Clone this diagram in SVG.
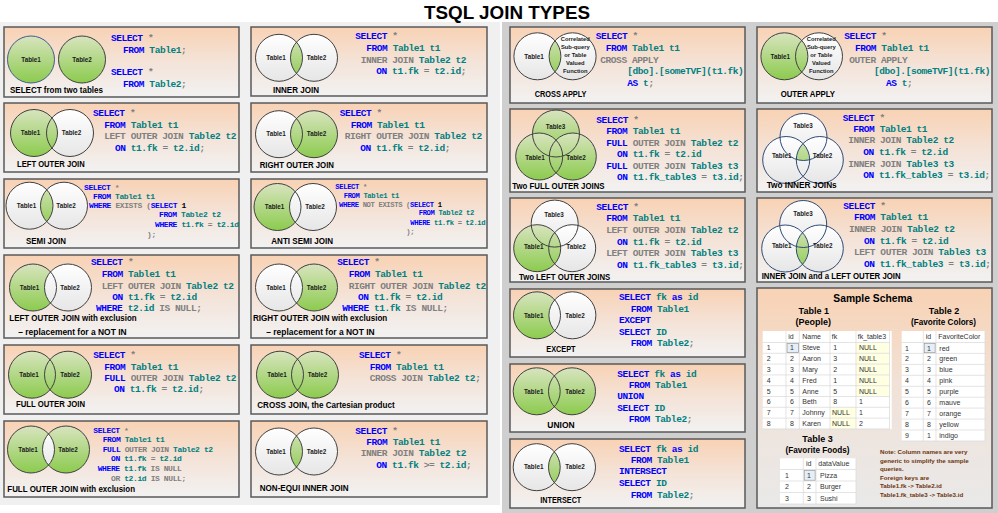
<svg xmlns="http://www.w3.org/2000/svg" width="998" height="513" viewBox="0 0 998 513">
<defs>
<linearGradient id="pg" x1="0" y1="0" x2="0" y2="1"><stop offset="0" stop-color="#f8d2b4"/><stop offset="0.5" stop-color="#f4e3d8"/><stop offset="1" stop-color="#f2f2f2"/></linearGradient>
<linearGradient id="sg" x1="0" y1="0" x2="0" y2="1"><stop offset="0" stop-color="#f8d2b4"/><stop offset="0.45" stop-color="#f1e2d8"/><stop offset="1" stop-color="#e9e9e9"/></linearGradient>
<linearGradient id="gg" x1="0" y1="0" x2="0" y2="1"><stop offset="0" stop-color="#d8e4bf"/><stop offset="1" stop-color="#8ccb4e"/></linearGradient>
<linearGradient id="wg" x1="0" y1="0" x2="0" y2="1"><stop offset="0" stop-color="#ffffff"/><stop offset="1" stop-color="#e6e6e6"/></linearGradient>
<clipPath id="kA3"><circle cx="64" cy="205.7" r="23.5"/></clipPath>
<clipPath id="kA6"><circle cx="66" cy="449.5" r="23.5"/></clipPath>
<clipPath id="kB1"><circle cx="314" cy="57.8" r="23.5"/></clipPath>
<clipPath id="kB6"><circle cx="314" cy="451.5" r="23.5"/></clipPath>
<clipPath id="kC1"><circle cx="572.6" cy="56.3" r="23.5"/></clipPath>
<clipPath id="kC6"><circle cx="572" cy="467.2" r="23.5"/></clipPath>
<clipPath id="kD2a"><circle cx="819.8" cy="160" r="23.5"/></clipPath>
<clipPath id="kD2b"><circle cx="803.5" cy="137" r="23.5"/></clipPath>
<clipPath id="kD3"><circle cx="819.8" cy="248.5" r="23.5"/></clipPath>
<style>
.p{fill:url(#pg);stroke:#595959;stroke-width:1.5}
.g{fill:url(#gg)}
.w{fill:url(#wg)}
.o{fill:none;stroke:#404040;stroke-width:1}
.tl{font-family:"Liberation Sans",Arial,sans-serif;font-weight:bold;font-size:6.3px;fill:#1a1a1a;text-anchor:middle}
.cap{font-family:"Liberation Sans",Arial,sans-serif;font-weight:bold;font-size:9px;fill:#000}
.c{font-family:"Liberation Mono","Courier New",monospace;font-weight:bold;font-size:9.5px;letter-spacing:-0.43px;fill:#008080}
.cs{font-size:8px;letter-spacing:-0.4px}
.cx{font-size:7.2px;letter-spacing:-0.37px}
.k{fill:#0000ff}
.y{fill:#808080}
.b{fill:#000}
.fn{font-family:"Liberation Sans",Arial,sans-serif;font-weight:bold;font-size:5.8px;fill:#1a1a1a;text-anchor:middle}
.sh{font-family:"Liberation Sans",Arial,sans-serif;font-weight:bold;fill:#000;text-anchor:middle}
.td{font-family:"Liberation Sans",Arial,sans-serif;font-size:7px;fill:#333}
.gl{stroke:#d8d8d8;stroke-width:0.7;fill:none}
.yc{fill:#ffffe1}
.sel{fill:#e6eef7;stroke:#9a9a9a;stroke-width:0.8}
.nt{font-family:"Liberation Sans",Arial,sans-serif;font-weight:bold;font-size:6.2px;fill:#6b3310}
</style>
</defs>
<rect x="0" y="0" width="998" height="513" fill="#ffffff"/>
<rect x="0" y="22" width="500" height="483" fill="#f0f0f0"/>
<rect x="502" y="22" width="496" height="491" fill="#cfcfcf"/>
<text x="507" y="19" text-anchor="middle" font-family="Liberation Sans, Arial, sans-serif" font-weight="bold" font-size="19" textLength="166" lengthAdjust="spacingAndGlyphs">TSQL JOIN TYPES</text>

<g id="n-select-two">
<rect class="p" x="4" y="27" width="235" height="70"/>
<circle class="g" cx="31" cy="59.5" r="23.5"/><circle class="g" cx="82" cy="59.5" r="23.5"/>
<circle class="o" cx="31" cy="59.5" r="23.5" style="stroke:#3d5e8c"/><circle class="o" cx="82" cy="59.5" r="23.5"/>
<text class="tl" x="31" y="61.7">Table1</text><text class="tl" x="82" y="61.7">Table2</text>
<text class="cap" x="10" y="93" textLength="93" lengthAdjust="spacingAndGlyphs">SELECT from two tables</text>
<text class="c" x="111" y="41"><tspan class="k">SELECT</tspan> <tspan class="y">*</tspan></text>
<text class="c" x="123" y="52.7"><tspan class="k">FROM</tspan> Table1<tspan class="y">;</tspan></text>
<text class="c" x="111" y="75"><tspan class="k">SELECT</tspan> <tspan class="y">*</tspan></text>
<text class="c" x="123" y="87"><tspan class="k">FROM</tspan> Table2<tspan class="y">;</tspan></text>
</g>

<g id="n-left-outer">
<rect class="p" x="4" y="103" width="235" height="69"/>
<circle class="w" cx="70" cy="133" r="23.5"/><circle class="g" cx="34" cy="133" r="23.5"/>
<circle class="o" cx="34" cy="133" r="23.5"/><circle class="o" cx="70" cy="133" r="23.5"/>
<text class="tl" x="30.5" y="135.2">Table1</text><text class="tl" x="71.5" y="135.2">Table2</text>
<text class="cap" x="17" y="167" textLength="67.7" lengthAdjust="spacingAndGlyphs">LEFT OUTER JOIN</text>
<text class="c" x="93" y="116"><tspan class="k">SELECT</tspan> <tspan class="y">*</tspan></text>
<text class="c" x="104.3" y="128"><tspan class="k">FROM</tspan> Table1 t1</text>
<text class="c" x="104.3" y="139"><tspan class="y">LEFT OUTER JOIN</tspan> Table2 t2</text>
<text class="c" x="115" y="150.7"><tspan class="k">ON</tspan> t1.fk <tspan class="y">=</tspan> t2.id<tspan class="y">;</tspan></text>
</g>

<g id="n-semi">
<rect class="p" x="4" y="179" width="235" height="69"/>
<circle class="w" cx="29.5" cy="205.7" r="23.5"/><circle class="w" cx="64" cy="205.7" r="23.5"/>
<circle class="g" cx="29.5" cy="205.7" r="23.5" clip-path="url(#kA3)"/>
<circle class="o" cx="29.5" cy="205.7" r="23.5"/><circle class="o" cx="64" cy="205.7" r="23.5"/>
<text class="tl" x="26.5" y="207.9">Table1</text><text class="tl" x="66" y="207.9">Table2</text>
<text class="cap" x="26" y="243.7" textLength="40" lengthAdjust="spacingAndGlyphs">SEMI JOIN</text>
<text class="c cs" x="84" y="189.7"><tspan class="k">SELECT</tspan> <tspan class="y">*</tspan></text>
<text class="c cs" x="93" y="198.7"><tspan class="k">FROM</tspan> Table1 t1</text>
<text class="c cs" x="89" y="208"><tspan class="k">WHERE</tspan> <tspan class="y">EXISTS (</tspan><tspan class="k">SELECT</tspan> <tspan class="b">1</tspan></text>
<text class="c cs" x="159" y="217.3"><tspan class="k">FROM</tspan> Table2 t2</text>
<text class="c cs" x="155" y="227"><tspan class="k">WHERE</tspan> t1.fk <tspan class="y">=</tspan> t2.id</text>
<text class="c cs" x="147" y="237"><tspan class="y">);</tspan></text>
</g>

<g id="n-left-excl">
<rect class="p" x="4" y="255" width="235" height="83"/>
<circle class="g" cx="33" cy="287.5" r="23.5"/><circle class="w" cx="68" cy="287.5" r="23.5"/>
<circle class="o" cx="33" cy="287.5" r="23.5"/><circle class="o" cx="68" cy="287.5" r="23.5"/>
<text class="tl" x="29.5" y="289.7">Table1</text><text class="tl" x="70" y="289.7">Table2</text>
<text class="cap" x="9.3" y="321.3" textLength="127.3" lengthAdjust="spacingAndGlyphs">LEFT OUTER JOIN with exclusion</text>
<text class="cap" x="18.3" y="334.7" textLength="108.3" lengthAdjust="spacingAndGlyphs">– replacement for a NOT IN</text>
<text class="c" x="91" y="265.3"><tspan class="k">SELECT</tspan> <tspan class="y">*</tspan></text>
<text class="c" x="101.7" y="277.3"><tspan class="k">FROM</tspan> Table1 t1</text>
<text class="c" x="101.7" y="288.7"><tspan class="y">LEFT OUTER JOIN</tspan> Table2 t2</text>
<text class="c" x="112.3" y="300.3"><tspan class="k">ON</tspan> t1.fk <tspan class="y">=</tspan> t2.id</text>
<text class="c" x="96" y="311.3"><tspan class="k">WHERE</tspan> t2.id <tspan class="y">IS NULL;</tspan></text>
</g>

<g id="n-full-outer">
<rect class="p" x="4" y="345" width="235" height="69"/>
<circle class="g" cx="32" cy="374.7" r="23.5"/><circle class="g" cx="68" cy="374.7" r="23.5"/>
<circle class="o" cx="32" cy="374.7" r="23.5"/><circle class="o" cx="68" cy="374.7" r="23.5"/>
<text class="tl" x="29" y="376.9">Table1</text><text class="tl" x="70" y="376.9">Table2</text>
<text class="cap" x="16" y="406.7" textLength="69" lengthAdjust="spacingAndGlyphs">FULL OUTER JOIN</text>
<text class="c" x="93.3" y="357.7"><tspan class="k">SELECT</tspan> <tspan class="y">*</tspan></text>
<text class="c" x="104.3" y="369.7"><tspan class="k">FROM</tspan> Table1 t1</text>
<text class="c" x="104.3" y="380.7"><tspan class="k">FULL</tspan> <tspan class="y">OUTER JOIN</tspan> Table2 t2</text>
<text class="c" x="114" y="392.3"><tspan class="k">ON</tspan> t1.fk <tspan class="y">=</tspan> t2.id<tspan class="y">;</tspan></text>
</g>

<g id="n-full-excl">
<rect class="p" x="4" y="421" width="235" height="76"/>
<circle class="g" cx="31" cy="449.5" r="23.5"/><circle class="g" cx="66" cy="449.5" r="23.5"/>
<circle class="w" cx="31" cy="449.5" r="23.5" clip-path="url(#kA6)"/>
<circle class="o" cx="31" cy="449.5" r="23.5"/><circle class="o" cx="66" cy="449.5" r="23.5"/>
<text class="tl" x="28" y="451.7">Table1</text><text class="tl" x="68" y="451.7">Table2</text>
<text class="cap" x="7.3" y="491.7" textLength="127.7" lengthAdjust="spacingAndGlyphs">FULL OUTER JOIN with exclusion</text>
<text class="c cs" x="93.3" y="432.7"><tspan class="k">SELECT</tspan> <tspan class="y">*</tspan></text>
<text class="c cs" x="102.7" y="441.7"><tspan class="k">FROM</tspan> Table1 t1</text>
<text class="c cs" x="102.7" y="451.7"><tspan class="k">FULL</tspan> <tspan class="y">OUTER JOIN</tspan> Table2 t2</text>
<text class="c cs" x="111" y="461"><tspan class="k">ON</tspan> t1.fk <tspan class="y">=</tspan> t2.id</text>
<text class="c cs" x="97.7" y="471"><tspan class="k">WHERE</tspan> t1.fk <tspan class="y">IS NULL</tspan></text>
<text class="c cs" x="111" y="481"><tspan class="y">OR</tspan> t2.id <tspan class="y">IS NULL;</tspan></text>
</g>

<g id="n-inner">
<rect class="p" x="251" y="27" width="236" height="69"/>
<circle class="w" cx="279" cy="57.8" r="23.5"/><circle class="w" cx="314" cy="57.8" r="23.5"/>
<circle class="g" cx="279" cy="57.8" r="23.5" clip-path="url(#kB1)"/>
<circle class="o" cx="279" cy="57.8" r="23.5"/><circle class="o" cx="314" cy="57.8" r="23.5"/>
<text class="tl" x="276" y="60">Table1</text><text class="tl" x="316.5" y="60">Table2</text>
<text class="cap" x="273" y="92.7" textLength="46" lengthAdjust="spacingAndGlyphs">INNER JOIN</text>
<text class="c" x="355.3" y="39.3"><tspan class="k">SELECT</tspan> <tspan class="y">*</tspan></text>
<text class="c" x="366.3" y="51"><tspan class="k">FROM</tspan> Table1 t1</text>
<text class="c" x="360.7" y="62.7"><tspan class="y">INNER JOIN</tspan> Table2 t2</text>
<text class="c" x="376.3" y="74.3"><tspan class="k">ON</tspan> t1.fk <tspan class="y">=</tspan> t2.id<tspan class="y">;</tspan></text>
</g>

<g id="n-right-outer">
<rect class="p" x="251" y="103" width="236" height="69"/>
<circle class="w" cx="279" cy="134.2" r="23.5"/><circle class="g" cx="314" cy="134.2" r="23.5"/>
<circle class="o" cx="279" cy="134.2" r="23.5"/><circle class="o" cx="314" cy="134.2" r="23.5"/>
<text class="tl" x="276" y="136.4">Table1</text><text class="tl" x="316.5" y="136.4">Table2</text>
<text class="cap" x="259.7" y="167.7" textLength="74.3" lengthAdjust="spacingAndGlyphs">RIGHT OUTER JOIN</text>
<text class="c" x="339.7" y="116"><tspan class="k">SELECT</tspan> <tspan class="y">*</tspan></text>
<text class="c" x="350.7" y="127.7"><tspan class="k">FROM</tspan> Table1 t1</text>
<text class="c" x="344.7" y="139.3"><tspan class="y">RIGHT OUTER JOIN</tspan> Table2 t2</text>
<text class="c" x="360.3" y="150.7"><tspan class="k">ON</tspan> t1.fk <tspan class="y">=</tspan> t2.id<tspan class="y">;</tspan></text>
</g>

<g id="n-anti-semi">
<rect class="p" x="251" y="179" width="236" height="69"/>
<circle class="g" cx="277.5" cy="207" r="23.5"/><circle class="w" cx="313" cy="207" r="23.5"/>
<circle class="o" cx="277.5" cy="207" r="23.5"/><circle class="o" cx="313" cy="207" r="23.5"/>
<text class="tl" x="274.5" y="209.2">Table1</text><text class="tl" x="315" y="209.2">Table2</text>
<text class="cap" x="271.3" y="243.7" textLength="61.7" lengthAdjust="spacingAndGlyphs">ANTI SEMI JOIN</text>
<text class="c cx" x="335.3" y="189.3"><tspan class="k">SELECT</tspan> <tspan class="y">*</tspan></text>
<text class="c cx" x="343.7" y="198.3"><tspan class="k">FROM</tspan> Table1 t1</text>
<text class="c cx" x="339" y="206.7"><tspan class="k">WHERE</tspan> <tspan class="y">NOT EXISTS (</tspan><tspan class="k">SELECT</tspan> <tspan class="b">1</tspan></text>
<text class="c cx" x="418.7" y="215.3"><tspan class="k">FROM</tspan> Table2 t2</text>
<text class="c cx" x="410.3" y="224.7"><tspan class="k">WHERE</tspan> t1.fk <tspan class="y">=</tspan> t2.id</text>
<text class="c cx" x="406.3" y="234.3"><tspan class="y">);</tspan></text>
</g>

<g id="n-right-excl">
<rect class="p" x="251" y="255" width="236" height="83"/>
<circle class="g" cx="314" cy="287.5" r="23.5"/><circle class="w" cx="279" cy="287.5" r="23.5"/>
<circle class="o" cx="279" cy="287.5" r="23.5"/><circle class="o" cx="314" cy="287.5" r="23.5"/>
<text class="tl" x="276" y="289.7">Table1</text><text class="tl" x="316.5" y="289.7">Table2</text>
<text class="cap" x="253" y="321.3" textLength="134.3" lengthAdjust="spacingAndGlyphs">RIGHT OUTER JOIN with exclusion</text>
<text class="cap" x="266.3" y="334.7" textLength="108.3" lengthAdjust="spacingAndGlyphs">– replacement for a NOT IN</text>
<text class="c" x="337.3" y="265.3"><tspan class="k">SELECT</tspan> <tspan class="y">*</tspan></text>
<text class="c" x="348.7" y="277.3"><tspan class="k">FROM</tspan> Table1 t1</text>
<text class="c" x="348.7" y="288.7"><tspan class="y">RIGHT OUTER JOIN</tspan> Table2 t2</text>
<text class="c" x="358" y="300.3"><tspan class="k">ON</tspan> t1.fk <tspan class="y">=</tspan> t2.id</text>
<text class="c" x="342.3" y="311.3"><tspan class="k">WHERE</tspan> t1.fk <tspan class="y">IS NULL;</tspan></text>
</g>

<g id="n-cross-join">
<rect class="p" x="251" y="345" width="236" height="69"/>
<circle class="g" cx="280" cy="374.7" r="23.5"/><circle class="g" cx="315" cy="374.7" r="23.5"/>
<circle class="o" cx="280" cy="374.7" r="23.5"/><circle class="o" cx="315" cy="374.7" r="23.5"/>
<text class="tl" x="277" y="376.9">Table1</text><text class="tl" x="317.5" y="376.9">Table2</text>
<text class="cap" x="257.3" y="408.3" textLength="137.3" lengthAdjust="spacingAndGlyphs">CROSS JOIN, the Cartesian product</text>
<text class="c" x="359" y="357.7"><tspan class="k">SELECT</tspan> <tspan class="y">*</tspan></text>
<text class="c" x="369.7" y="369.7"><tspan class="k">FROM</tspan> Table1 t1</text>
<text class="c" x="369.7" y="380.7"><tspan class="y">CROSS JOIN</tspan> Table2 t2<tspan class="y">;</tspan></text>
</g>

<g id="n-non-equi">
<rect class="p" x="251" y="421" width="236" height="76"/>
<circle class="w" cx="279" cy="451.5" r="23.5"/><circle class="w" cx="314" cy="451.5" r="23.5"/>
<circle class="g" cx="279" cy="451.5" r="23.5" clip-path="url(#kB6)"/>
<circle class="o" cx="279" cy="451.5" r="23.5"/><circle class="o" cx="314" cy="451.5" r="23.5"/>
<text class="tl" x="276" y="453.7">Table1</text><text class="tl" x="316.5" y="453.7">Table2</text>
<text class="cap" x="259.7" y="491" textLength="89" lengthAdjust="spacingAndGlyphs">NON-EQUI INNER JOIN</text>
<text class="c" x="355.3" y="434"><tspan class="k">SELECT</tspan> <tspan class="y">*</tspan></text>
<text class="c" x="366.3" y="445"><tspan class="k">FROM</tspan> Table1 t1</text>
<text class="c" x="360.7" y="456.3"><tspan class="y">INNER JOIN</tspan> Table2 t2</text>
<text class="c" x="376.3" y="468.3"><tspan class="k">ON</tspan> t1.fk <tspan class="y">&gt;=</tspan> t2.id<tspan class="y">;</tspan></text>
</g>

<g id="n-cross-apply">
<rect class="p" x="510" y="27" width="235" height="76"/>
<circle class="w" cx="537.4" cy="56.3" r="23.5"/><circle class="w" cx="572.6" cy="56.3" r="23.5"/>
<circle class="g" cx="537.4" cy="56.3" r="23.5" clip-path="url(#kC1)"/>
<circle class="o" cx="537.4" cy="56.3" r="23.5"/><circle class="o" cx="572.6" cy="56.3" r="23.5"/>
<text class="tl" x="534" y="58.5">Table1</text>
<text class="fn" x="575.3" y="41">Correlated</text>
<text class="fn" x="575.3" y="49">Sub-query</text>
<text class="fn" x="575.3" y="57">or Table</text>
<text class="fn" x="575.3" y="65">Valued</text>
<text class="fn" x="575.3" y="73">Function</text>
<text class="cap" x="534.7" y="96.7" textLength="51.7" lengthAdjust="spacingAndGlyphs">CROSS APPLY</text>
<text class="c" x="595.7" y="39.3"><tspan class="k">SELECT</tspan> <tspan class="y">*</tspan></text>
<text class="c" x="605.7" y="51"><tspan class="k">FROM</tspan> Table1 t1</text>
<text class="c" x="600.3" y="62.7"><tspan class="y">CROSS APPLY</tspan></text>
<text class="c" x="627.3" y="74.3">[dbo].[someTVF](t1.fk)</text>
<text class="c" x="627.3" y="86"><tspan class="k">AS</tspan> t<tspan class="y">;</tspan></text>
</g>

<g id="n-two-full">
<rect class="p" x="510" y="109" width="235" height="83"/>
<circle class="g" cx="556" cy="133.5" r="23.5"/><circle class="g" cx="539.2" cy="156.5" r="23.5"/><circle class="g" cx="572.8" cy="156.5" r="23.5"/>
<circle class="o" cx="556" cy="133.5" r="23.5"/><circle class="o" cx="539.2" cy="156.5" r="23.5"/><circle class="o" cx="572.8" cy="156.5" r="23.5"/>
<text class="tl" x="555.5" y="129">Table3</text><text class="tl" x="535" y="160">Table1</text><text class="tl" x="576" y="160">Table2</text>
<text class="cap" x="512.3" y="189.3" textLength="92.3" lengthAdjust="spacingAndGlyphs">Two FULL OUTER JOINS</text>
<text class="c" x="596.3" y="122.7"><tspan class="k">SELECT</tspan> <tspan class="y">*</tspan></text>
<text class="c" x="606.3" y="134.3"><tspan class="k">FROM</tspan> Table1 t1</text>
<text class="c" x="606.3" y="145.7"><tspan class="k">FULL</tspan> <tspan class="y">OUTER JOIN</tspan> Table2 t2</text>
<text class="c" x="617" y="157.3"><tspan class="k">ON</tspan> t1.fk <tspan class="y">=</tspan> t2.id</text>
<text class="c" x="606.3" y="168.7"><tspan class="k">FULL</tspan> <tspan class="y">OUTER JOIN</tspan> Table3 t3</text>
<text class="c" x="617" y="180"><tspan class="k">ON</tspan> t1.fk_table3 <tspan class="y">=</tspan> t3.id<tspan class="y">;</tspan></text>
</g>

<g id="n-two-left">
<rect class="p" x="510" y="198" width="235" height="84"/>
<circle class="w" cx="554.7" cy="223.6" r="23.5"/><circle class="w" cx="572.2" cy="248.2" r="23.5"/><circle class="g" cx="537.2" cy="248.2" r="23.5"/>
<circle class="o" cx="554.7" cy="223.6" r="23.5"/><circle class="o" cx="537.2" cy="248.2" r="23.5"/><circle class="o" cx="572.2" cy="248.2" r="23.5"/>
<text class="tl" x="554" y="217">Table3</text><text class="tl" x="533.7" y="248.7">Table1</text><text class="tl" x="576" y="248.7">Table2</text>
<text class="cap" x="519" y="280.3" textLength="91.3" lengthAdjust="spacingAndGlyphs">Two LEFT OUTER JOINS</text>
<text class="c" x="596.3" y="209.7"><tspan class="k">SELECT</tspan> <tspan class="y">*</tspan></text>
<text class="c" x="606.3" y="221.3"><tspan class="k">FROM</tspan> Table1 t1</text>
<text class="c" x="606.3" y="232.7"><tspan class="y">LEFT OUTER JOIN</tspan> Table2 t2</text>
<text class="c" x="617" y="244.7"><tspan class="k">ON</tspan> t1.fk <tspan class="y">=</tspan> t2.id</text>
<text class="c" x="606.3" y="256"><tspan class="y">LEFT OUTER JOIN</tspan> Table3 t3</text>
<text class="c" x="617" y="267.7"><tspan class="k">ON</tspan> t1.fk_table3 <tspan class="y">=</tspan> t3.id<tspan class="y">;</tspan></text>
</g>

<g id="n-except">
<rect class="p" x="510" y="289" width="235" height="68"/>
<circle class="g" cx="537" cy="315.3" r="23.5"/><circle class="w" cx="572.4" cy="315.3" r="23.5"/>
<circle class="o" cx="537" cy="315.3" r="23.5"/><circle class="o" cx="572.4" cy="315.3" r="23.5"/>
<text class="tl" x="533.7" y="317.5">Table1</text><text class="tl" x="575" y="317.5">Table2</text>
<text class="cap" x="546.3" y="351.7" textLength="29.3" lengthAdjust="spacingAndGlyphs">EXCEPT</text>
<text class="c" x="619" y="300.3"><tspan class="k">SELECT</tspan> fk <tspan class="k">as</tspan> id</text>
<text class="c" x="630.7" y="312"><tspan class="k">FROM</tspan> Table1</text>
<text class="c" x="619" y="323"><tspan class="k">EXCEPT</tspan></text>
<text class="c" x="619" y="334.7"><tspan class="k">SELECT</tspan> ID</text>
<text class="c" x="630.7" y="346"><tspan class="k">FROM</tspan> Table2<tspan class="y">;</tspan></text>
</g>

<g id="n-union">
<rect class="p" x="510" y="364" width="235" height="68"/>
<circle class="g" cx="536.7" cy="391.3" r="23.5"/><circle class="g" cx="572" cy="391.3" r="23.5"/>
<circle class="o" cx="536.7" cy="391.3" r="23.5"/><circle class="o" cx="572" cy="391.3" r="23.5"/>
<text class="tl" x="533.7" y="393.5">Table1</text><text class="tl" x="575" y="393.5">Table2</text>
<text class="cap" x="547.3" y="428.3" textLength="27.3" lengthAdjust="spacingAndGlyphs">UNION</text>
<text class="c" x="617.3" y="376.7"><tspan class="k">SELECT</tspan> fk <tspan class="k">as</tspan> id</text>
<text class="c" x="628.7" y="387.7"><tspan class="k">FROM</tspan> Table1</text>
<text class="c" x="617.3" y="399.3"><tspan class="k">UNION</tspan></text>
<text class="c" x="617.3" y="410.7"><tspan class="k">SELECT</tspan> ID</text>
<text class="c" x="628.7" y="422.3"><tspan class="k">FROM</tspan> Table2<tspan class="y">;</tspan></text>
</g>

<g id="n-intersect">
<rect class="p" x="510" y="439" width="235" height="69"/>
<circle class="w" cx="536.7" cy="467.2" r="23.5"/><circle class="w" cx="572" cy="467.2" r="23.5"/>
<circle class="g" cx="536.7" cy="467.2" r="23.5" clip-path="url(#kC6)"/>
<circle class="o" cx="536.7" cy="467.2" r="23.5"/><circle class="o" cx="572" cy="467.2" r="23.5"/>
<text class="tl" x="533.7" y="469.4">Table1</text><text class="tl" x="575" y="469.4">Table2</text>
<text class="cap" x="540.3" y="503.3" textLength="41" lengthAdjust="spacingAndGlyphs">INTERSECT</text>
<text class="c" x="619" y="451.7"><tspan class="k">SELECT</tspan> fk <tspan class="k">as</tspan> id</text>
<text class="c" x="630.7" y="463.3"><tspan class="k">FROM</tspan> Table1</text>
<text class="c" x="619" y="474.3"><tspan class="k">INTERSECT</tspan></text>
<text class="c" x="619" y="486"><tspan class="k">SELECT</tspan> ID</text>
<text class="c" x="630.7" y="498.3"><tspan class="k">FROM</tspan> Table2<tspan class="y">;</tspan></text>
</g>

<g id="n-outer-apply">
<rect class="p" x="757" y="27" width="235" height="76"/>
<circle class="w" cx="819" cy="56.3" r="23.5"/><circle class="g" cx="784.4" cy="56.3" r="23.5"/>
<circle class="o" cx="784.4" cy="56.3" r="23.5"/><circle class="o" cx="819" cy="56.3" r="23.5"/>
<text class="tl" x="780.3" y="58.5">Table1</text>
<text class="fn" x="821.3" y="41">Correlated</text>
<text class="fn" x="821.3" y="49">Sub-query</text>
<text class="fn" x="821.3" y="57">or Table</text>
<text class="fn" x="821.3" y="65">Valued</text>
<text class="fn" x="821.3" y="73">Function</text>
<text class="cap" x="780.7" y="96.7" textLength="54.3" lengthAdjust="spacingAndGlyphs">OUTER APPLY</text>
<text class="c" x="844.3" y="39.3"><tspan class="k">SELECT</tspan> <tspan class="y">*</tspan></text>
<text class="c" x="855" y="51"><tspan class="k">FROM</tspan> Table1 t1</text>
<text class="c" x="849.3" y="62.7"><tspan class="y">OUTER APPLY</tspan></text>
<text class="c" x="874" y="74.3">[dbo].[someTVF](t1.fk)</text>
<text class="c" x="886" y="86"><tspan class="k">AS</tspan> t<tspan class="y">;</tspan></text>
</g>

<g id="n-two-inner">
<rect class="p" x="757" y="109" width="235" height="83"/>
<circle class="w" cx="803.5" cy="137" r="23.5"/><circle class="w" cx="786.2" cy="160" r="23.5"/><circle class="w" cx="819.8" cy="160" r="23.5"/>
<g clip-path="url(#kD2b)"><circle class="g" cx="786.2" cy="160" r="23.5" clip-path="url(#kD2a)"/></g>
<circle class="o" cx="803.5" cy="137" r="23.5" style="stroke:#2f4a75"/><circle class="o" cx="786.2" cy="160" r="23.5" style="stroke:#2f4a75"/><circle class="o" cx="819.8" cy="160" r="23.5" style="stroke:#2f4a75"/>
<text class="tl" x="803" y="128.3">Table3</text><text class="tl" x="781.7" y="158.3">Table1</text><text class="tl" x="822.5" y="158.3">Table2</text>
<text class="cap" x="766.7" y="188.3" textLength="70" lengthAdjust="spacingAndGlyphs">Two INNER JOINs</text>
<text class="c" x="842.7" y="120.7"><tspan class="k">SELECT</tspan> <tspan class="y">*</tspan></text>
<text class="c" x="853.3" y="132.3"><tspan class="k">FROM</tspan> Table1 t1</text>
<text class="c" x="848.3" y="143.3"><tspan class="y">INNER JOIN</tspan> Table2 t2</text>
<text class="c" x="863.3" y="155"><tspan class="k">ON</tspan> t1.fk <tspan class="y">=</tspan> t2.id</text>
<text class="c" x="848.3" y="166.7"><tspan class="y">INNER JOIN</tspan> Table3 t3</text>
<text class="c" x="863.3" y="178.3"><tspan class="k">ON</tspan> t1.fk_table3 <tspan class="y">=</tspan> t3.id<tspan class="y">;</tspan></text>
</g>

<g id="n-inner-left">
<rect class="p" x="757" y="198" width="235" height="84"/>
<circle class="w" cx="803.2" cy="224" r="23.5"/><circle class="w" cx="785.2" cy="248.5" r="23.5"/><circle class="w" cx="819.8" cy="248.5" r="23.5"/>
<circle class="g" cx="785.2" cy="248.5" r="23.5" clip-path="url(#kD3)"/>
<circle class="o" cx="803.2" cy="224" r="23.5" style="stroke:#2f4a75"/><circle class="o" cx="785.2" cy="248.5" r="23.5" style="stroke:#2f4a75"/><circle class="o" cx="819.8" cy="248.5" r="23.5" style="stroke:#2f4a75"/>
<text class="tl" x="803" y="216">Table3</text><text class="tl" x="781.7" y="248">Table1</text><text class="tl" x="822.7" y="248">Table2</text>
<text class="cap" x="761.7" y="279.3" textLength="139" lengthAdjust="spacingAndGlyphs">INNER JOIN and a LEFT OUTER JOIN</text>
<text class="c" x="843.3" y="209.3"><tspan class="k">SELECT</tspan> <tspan class="y">*</tspan></text>
<text class="c" x="854" y="220.3"><tspan class="k">FROM</tspan> Table1 t1</text>
<text class="c" x="849" y="232"><tspan class="y">INNER JOIN</tspan> Table2 t2</text>
<text class="c" x="864" y="243.7"><tspan class="k">ON</tspan> t1.fk <tspan class="y">=</tspan> t2.id</text>
<text class="c" x="854" y="255.3"><tspan class="y">LEFT OUTER JOIN</tspan> Table3 t3</text>
<text class="c" x="864" y="267"><tspan class="k">ON</tspan> t1.fk_table3 <tspan class="y">=</tspan> t3.id<tspan class="y">;</tspan></text>
</g>

<g id="n-sample-schema">
<rect x="757" y="288" width="235" height="220" fill="url(#sg)" stroke="#595959" stroke-width="1.5"/>
<text class="sh" x="872.8" y="301.7" font-size="11" textLength="79" lengthAdjust="spacingAndGlyphs">Sample Schema</text>
<text class="sh" x="813.8" y="314" font-size="9">Table 1</text>
<text class="sh" x="813.3" y="325" font-size="9">(People)</text>
<text class="sh" x="944" y="314" font-size="9">Table 2</text>
<text class="sh" x="943.5" y="325" font-size="9" textLength="65" lengthAdjust="spacingAndGlyphs">(Favorite Colors)</text>
<g id="t-people">
<rect x="762.7" y="331" width="129" height="98" fill="#ffffff"/>
<rect class="yc" x="856" y="342.5" width="33.5" height="54"/>
<rect class="yc" x="830" y="407.3" width="26" height="21.6"/>
<rect class="sel" x="787" y="343.3" width="11.5" height="9.3"/>
<path class="gl" d="M786 331V429M799.3 331V429M830 331V429M856 331V429M889.5 331V429M762.7 342.5H889.5M762.7 353.3H889.5M762.7 364.1H889.5M762.7 374.9H889.5M762.7 385.7H889.5M762.7 396.5H889.5M762.7 407.3H889.5M762.7 418.1H889.5M762.7 428.9H889.5"/>
<text class="td" y="339.2"><tspan x="788.3">id</tspan><tspan x="802.3">Name</tspan><tspan x="831.7">fk</tspan><tspan x="857.7">fk_table3</tspan></text>
<text class="td" y="350.4"><tspan x="766.7">1</tspan><tspan x="790">1</tspan><tspan x="802.3">Steve</tspan><tspan x="833.3">1</tspan><tspan x="859">NULL</tspan></text>
<text class="td" y="361.2"><tspan x="766.7">2</tspan><tspan x="790">2</tspan><tspan x="802.3">Aaron</tspan><tspan x="833.3">3</tspan><tspan x="859">NULL</tspan></text>
<text class="td" y="372"><tspan x="766.7">3</tspan><tspan x="790">3</tspan><tspan x="802.3">Mary</tspan><tspan x="833.3">2</tspan><tspan x="859">NULL</tspan></text>
<text class="td" y="382.8"><tspan x="766.7">4</tspan><tspan x="790">4</tspan><tspan x="802.3">Fred</tspan><tspan x="833.3">1</tspan><tspan x="859">NULL</tspan></text>
<text class="td" y="393.6"><tspan x="766.7">5</tspan><tspan x="790">5</tspan><tspan x="802.3">Anne</tspan><tspan x="833.3">5</tspan><tspan x="859">NULL</tspan></text>
<text class="td" y="404.4"><tspan x="766.7">6</tspan><tspan x="790">6</tspan><tspan x="802.3">Beth</tspan><tspan x="833.3">8</tspan><tspan x="859">1</tspan></text>
<text class="td" y="415.2"><tspan x="766.7">7</tspan><tspan x="790">7</tspan><tspan x="802.3">Johnny</tspan><tspan x="832">NULL</tspan><tspan x="859">1</tspan></text>
<text class="td" y="426"><tspan x="766.7">8</tspan><tspan x="790">8</tspan><tspan x="802.3">Karen</tspan><tspan x="832">NULL</tspan><tspan x="859">2</tspan></text>
</g>
<g id="t-colors">
<rect x="901.7" y="331" width="83.3" height="110" fill="#ffffff"/>
<rect class="sel" x="924.2" y="343.3" width="11" height="9.4"/>
<path class="gl" d="M923.3 331V441M936 331V441M985 331V441M901.7 342.5H985M901.7 353.4H985M901.7 364.4H985M901.7 375.3H985M901.7 386.3H985M901.7 397.2H985M901.7 408.1H985M901.7 419.1H985M901.7 430H985M901.7 441H985"/>
<text class="td" y="339.2"><tspan x="925.7">id</tspan><tspan x="938.3">FavoriteColor</tspan></text>
<text class="td" y="350.5"><tspan x="905">1</tspan><tspan x="927">1</tspan><tspan x="939.3">red</tspan></text>
<text class="td" y="361.4"><tspan x="905">2</tspan><tspan x="927">2</tspan><tspan x="939.3">green</tspan></text>
<text class="td" y="372.4"><tspan x="905">3</tspan><tspan x="927">3</tspan><tspan x="939.3">blue</tspan></text>
<text class="td" y="383.3"><tspan x="905">4</tspan><tspan x="927">4</tspan><tspan x="939.3">pink</tspan></text>
<text class="td" y="394.3"><tspan x="905">5</tspan><tspan x="927">5</tspan><tspan x="939.3">purple</tspan></text>
<text class="td" y="405.2"><tspan x="905">6</tspan><tspan x="927">6</tspan><tspan x="939.3">mauve</tspan></text>
<text class="td" y="416.1"><tspan x="905">7</tspan><tspan x="927">7</tspan><tspan x="939.3">orange</tspan></text>
<text class="td" y="427.1"><tspan x="905">8</tspan><tspan x="927">8</tspan><tspan x="939.3">yellow</tspan></text>
<text class="td" y="438"><tspan x="905">9</tspan><tspan x="927">1</tspan><tspan x="939.3">indigo</tspan></text>
</g>
<text class="sh" x="817.5" y="441.7" font-size="9">Table 3</text>
<text class="sh" x="817.5" y="452.7" font-size="9" textLength="64" lengthAdjust="spacingAndGlyphs">(Favorite Foods)</text>
<g id="t-foods">
<rect x="780" y="458.3" width="76" height="45.7" fill="#ffffff"/>
<rect class="sel" x="804.2" y="470.3" width="11" height="10"/>
<path class="gl" d="M803.3 458.3V504M816 458.3V504M856 458.3V504M780 469.5H856M780 481H856M780 492.5H856M780 504H856"/>
<text class="td" y="466.4"><tspan x="806">id</tspan><tspan x="818.3">dataValue</tspan></text>
<text class="td" y="477.7"><tspan x="785">1</tspan><tspan x="807">1</tspan><tspan x="820">Pizza</tspan></text>
<text class="td" y="489.2"><tspan x="785">2</tspan><tspan x="807">2</tspan><tspan x="820">Burger</tspan></text>
<text class="td" y="500.7"><tspan x="785">3</tspan><tspan x="807">3</tspan><tspan x="820">Sushi</tspan></text>
</g>
<text class="nt" x="880" y="454.3">Note: Column names are very</text>
<text class="nt" x="880" y="462.7">generic to simplify the sample</text>
<text class="nt" x="880" y="471">queries.</text>
<text class="nt" x="880" y="480">Foreign keys are</text>
<text class="nt" x="880" y="488.3">Table1.fk -&gt; Table2.id</text>
<text class="nt" x="880" y="496.7">Table1.fk_table3 -&gt; Table3.id</text>
</g>
</svg>
